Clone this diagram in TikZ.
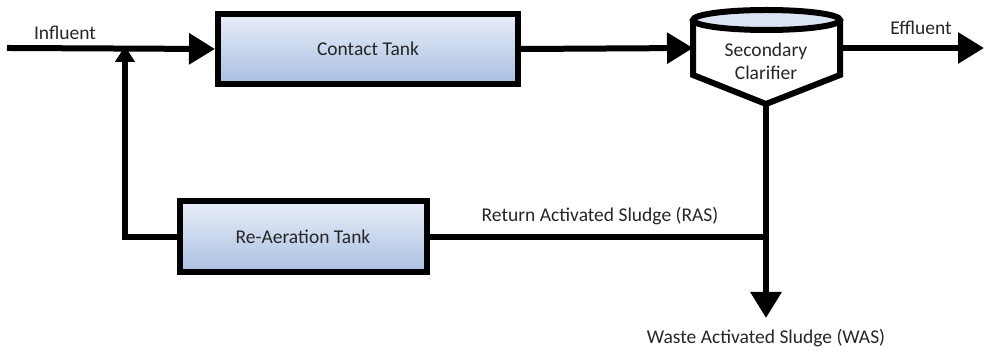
\documentclass[tikz,border=0pt]{standalone}
\usepackage{fontspec}
\setmainfont{Carlito}
\usetikzlibrary{arrows.meta}
\begin{document}
\begin{tikzpicture}[x=1pt,y=-1pt,
  flow/.style={line width=6pt,line cap=rect},
  bigtip/.style={-{Triangle[length=26pt,width=30pt]}},
  smalltip/.style={-{Triangle[length=16pt,width=19pt]}},
  tank/.style={draw,line width=6pt,shading angle=0,minimum height=70pt,inner sep=0pt,
    font=\fontsize{19.5}{23}\selectfont,text=black!85},
  lbl/.style={font=\fontsize{19.5}{23}\selectfont,text=black!85,inner sep=0pt}]
\definecolor{tankbot}{HTML}{A9BFE2}
\definecolor{tanktop}{HTML}{E9EEF8}
\definecolor{lidfill}{HTML}{DCE5F3}
\useasboundingbox (0,0) rectangle (984,352);

% tanks
\node[tank,top color=tanktop,bottom color=tankbot,minimum width=300pt] (contact) at (368,49) {Contact Tank};
\node[tank,top color=tanktop,bottom color=tankbot,minimum width=247pt,minimum height=71pt] (reair) at (303,237) {Re-Aeration Tank};

% secondary clarifier
\coordinate (clarL) at (693,48);
\coordinate (clarR) at (840,48);
\coordinate (clarB) at (766,104);
\draw[line width=6pt,fill=white,line join=miter]
  (693,21) -- (693,75) -- (clarB) -- (840,75) -- (840,21);
\draw[line width=6pt,fill=lidfill] (766.5,20) ellipse [x radius=73.5pt,y radius=10pt];
\node[lbl,align=center] (clar) at (766,61) {Secondary\\[0pt]Clarifier};

% junctions
\coordinate (inflStart) at (10,48);
\coordinate (mix) at (125,48);
\coordinate (retCorner) at (125,237);
\coordinate (split) at (766,237);
\coordinate (wasEnd) at (766,318);
\coordinate (effEnd) at (984,48);

% flows
\draw[flow,bigtip] (inflStart) -- (contact.west);
\draw[flow,bigtip] (contact.east) -- (clarL);
\draw[flow,bigtip] (clarR) -- (effEnd);
\draw[flow,bigtip] (clarB) -- (wasEnd);
\draw[flow] (split) -- (reair.east);
\draw[flow,smalltip] (reair.west) -- (retCorner) -- ([yshift=2pt]mix);

% labels
\node[lbl] (inflLbl) at (65,33) {Influent};
\node[lbl] (effLbl) at (921,28) {Effluent};
\node[lbl] (rasLbl) at (600,216) {Return Activated Sludge (RAS)};
\node[lbl] (wasLbl) at (766,338) {Waste Activated Sludge (WAS)};
\end{tikzpicture}
\end{document}
